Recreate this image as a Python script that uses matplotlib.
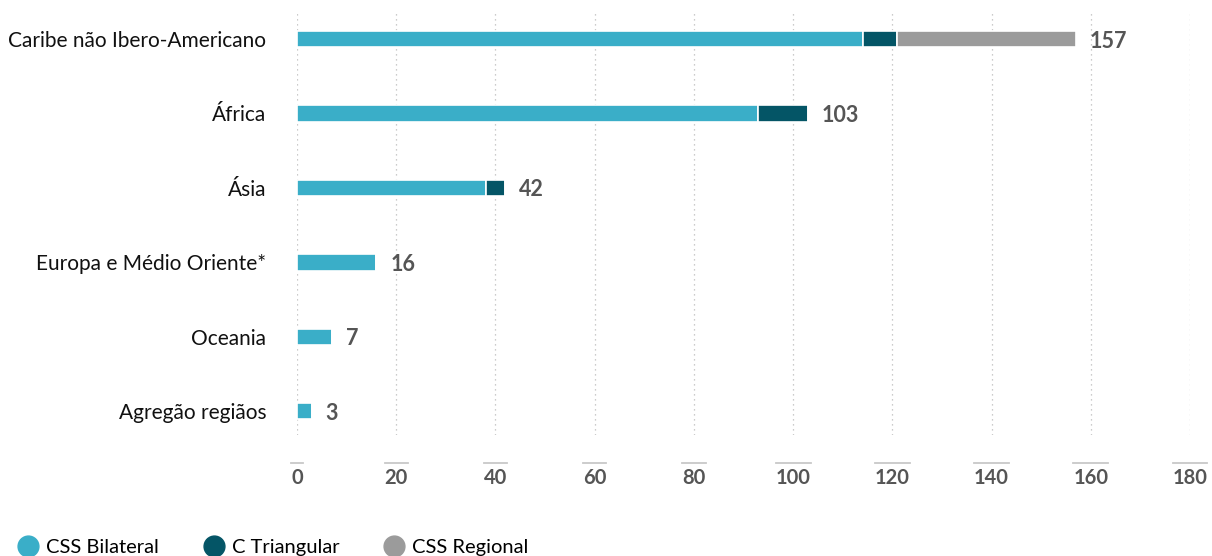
import matplotlib
matplotlib.use("Agg")
import matplotlib.pyplot as plt
from matplotlib.lines import Line2D
import numpy as np

plt.rcParams['font.family'] = ['Lato', 'DejaVu Sans']

categories = ["Caribe não Ibero-Americano", "África", "Ásia",
              "Europa e Médio Oriente*", "Oceania", "Agregão regiãos"]
bilateral = [114, 93, 38, 16, 7, 3]
triangular = [7, 10, 4, 0, 0, 0]
regional = [36, 0, 0, 0, 0, 0]
totals = [157, 103, 42, 16, 7, 3]
xticks = [0, 20, 40, 60, 80, 100, 120, 140, 160, 180]
series_names = ["CSS Bilateral", "C Triangular", "CSS Regional"]
colors = ["#3AAEC8", "#045566", "#9B9B9B"]

W, H = 1212, 556
fig = plt.figure(figsize=(W / 100, H / 100), dpi=100)
ax = fig.add_axes([297 / W, 1 - 435 / H, (1190 - 297) / W, (435 - 10) / H])

y = np.arange(len(categories))
left = np.zeros(len(categories))
for vals, c in zip([bilateral, triangular, regional], colors):
    v = np.array(vals, dtype=float)
    ax.barh(y, v, left=left, height=0.22, color=c, edgecolor="white",
            linewidth=1.2, zorder=3)
    left += v

for yi, t in zip(y, totals):
    ax.annotate(str(t), (t, yi), xytext=(10, -1.5), textcoords="offset points",
                va="center", ha="left", fontsize=15.5, fontweight="bold",
                color="#555555")

ax.set_xlim(0, 180)
ax.set_ylim(5.32, -0.39)
ax.set_yticks(y)
ax.set_yticklabels(categories, fontsize=15, color="#111111")
ax.tick_params(axis="y", length=0, pad=22)
ax.set_xticks(xticks)
ax.set_xticklabels([str(v) for v in xticks], fontsize=14.5, fontweight="bold",
                   color="#555555")
ax.tick_params(axis="x", length=0, pad=24)
ax.grid(axis="x", linestyle=(0, (1, 3)), color="#bbbbbb", linewidth=0.9, zorder=0)
for s in ax.spines.values():
    s.set_visible(False)

# overlines above x tick labels
fig.canvas.draw()
r = fig.canvas.get_renderer()
for lab in ax.get_xticklabels():
    bb = lab.get_window_extent(r)
    yline = bb.y1 + 5
    fig.add_artist(Line2D([bb.x0 / W, bb.x1 / W], [yline / H, yline / H],
                          transform=fig.transFigure, color="#c8c8c8", linewidth=1.3))

handles = [Line2D([0], [0], marker="o", linestyle="", markersize=15,
                  markerfacecolor=c, markeredgecolor=c) for c in colors]
fig.legend(handles, series_names, loc="lower left", bbox_to_anchor=(-2 / W, -18 / H),
           ncol=3, frameon=False, fontsize=14.5, handletextpad=0.3,
           columnspacing=2.1, handlelength=1.2)

fig.savefig("out.png", dpi=100)
